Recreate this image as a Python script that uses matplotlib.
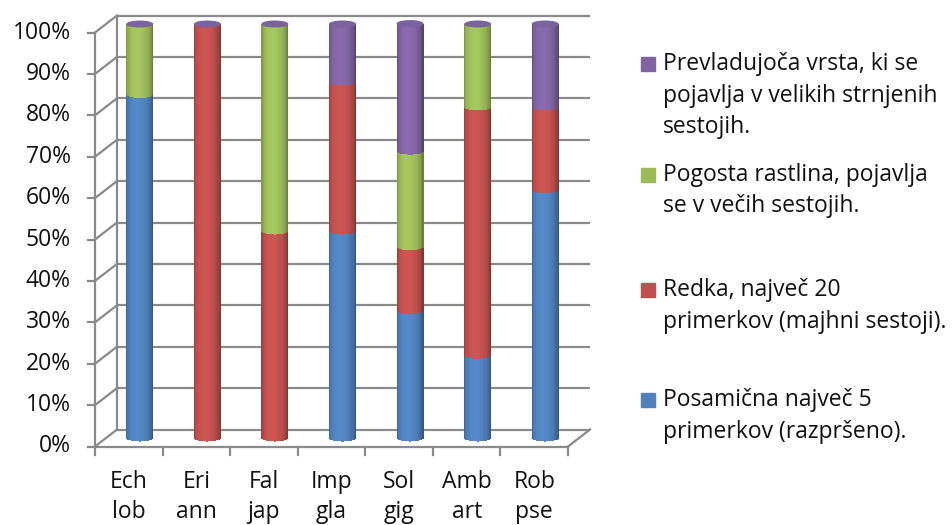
import matplotlib
matplotlib.use("Agg")
import matplotlib.pyplot as plt
import matplotlib.transforms as mtransforms
from matplotlib.patches import Ellipse, Rectangle
import numpy as np

plt.rcParams['font.family'] = ['Open Sans', 'DejaVu Sans']

# data (percent of each category)
categories = ["Ech\nlob", "Eri\nann", "Fal\njap", "Imp\ngla", "Sol\ngig", "Amb\nart", "Rob\npse"]
posamicna = [83, 0, 0, 50, 30.8, 20, 60]
redka = [0, 100, 50, 36, 15.4, 60, 20]
pogosta = [17, 0, 50, 0, 23.1, 20, 0]
prevladujoca = [0, 0, 0, 14, 30.8, 0, 20]
series = [posamicna, redka, pogosta, prevladujoca]
series_names = ["Posamična največ 5\nprimerkov (razpršeno).",
                "Redka, največ 20\nprimerkov (majhni sestoji).",
                "Pogosta rastlina, pojavlja\nse v večih sestojih.",
                "Prevladujoča vrsta, ki se\npojavlja v velikih strnjenih\nsestojih."]
colors = ["#4F81BD", "#C0504D", "#9BBB59", "#8064A2"]
yticks = np.arange(0, 101, 10)

W, H = 952, 525
fig = plt.figure(figsize=(W / 100, H / 100), dpi=100)
# axes = middle depth plane of the 3d box
ax = fig.add_axes([106 / W, (H - 438) / H, 473 / W, 414 / H])
ax.set_xlim(-0.5, 6.5)
ax.set_ylim(0, 100)
ax.axis('off')

front = ax.transData + mtransforms.ScaledTranslation(-0.11, -0.085, fig.dpi_scale_trans)
back = ax.transData + mtransforms.ScaledTranslation(0.11, 0.085, fig.dpi_scale_trans)
grid_c = "#8a8a8a"
lw = 1.6
txt_c = "#111111"
fs = 16.5

# back wall gridlines and left side wall
for v in yticks:
    ax.plot([-0.5, 6.5], [v, v], color=grid_c, lw=lw, transform=back, clip_on=False,
            solid_capstyle='butt')
    p0 = front.transform((-0.5, v))
    p1 = back.transform((-0.5, v))
    ax.plot([p0[0], p1[0]], [p0[1], p1[1]], color=grid_c, lw=lw, transform=None,
            clip_on=False)
ax.plot([-0.5, -0.5], [0, 100], color=grid_c, lw=lw, transform=back, clip_on=False)
# front axis
ax.plot([-0.5, -0.5], [0, 100], color=grid_c, lw=lw, transform=front, clip_on=False)
# floor
ax.plot([-0.5, 6.5], [0, 0], color=grid_c, lw=lw, transform=front, clip_on=False)
p0 = front.transform((6.5, 0))
p1 = back.transform((6.5, 0))
ax.plot([p0[0], p1[0]], [p0[1], p1[1]], color=grid_c, lw=lw, transform=None, clip_on=False)

# y ticks & labels
for v in yticks:
    x0, y0 = front.transform((-0.5, v))
    ax.plot([x0 - 7, x0], [y0, y0], color=grid_c, lw=lw, transform=None, clip_on=False)
    ax.text(x0 - 24, y0, f"{v}%", transform=None, ha='right', va='center', fontsize=fs,
            color=txt_c)
# x ticks & labels
for i in range(len(categories) + 1):
    x0, y0 = front.transform((i - 0.5, 0))
    ax.plot([x0, x0], [y0, y0 - 8], color=grid_c, lw=lw, transform=None, clip_on=False)
for i, c in enumerate(categories):
    x0, y0 = front.transform((i, 0))
    for k, line in enumerate(c.split("\n")):
        ax.text(x0, y0 - 35 - 31 * k, line, transform=None, ha='center', va='center',
                fontsize=fs, color=txt_c)

# cylinders
bw = 0.40
n = 24
edges = np.linspace(-bw / 2, bw / 2, n + 1)
mids = (edges[:-1] + edges[1:]) / 2
t = mids / (bw / 2)
shade = 0.64 + 0.42 * np.sqrt(1 - t ** 2) - 0.08 * t
x = np.arange(len(categories))
ell_h = 1.7


def shaded(c, k):
    rgb = np.array(matplotlib.colors.to_rgb(c))
    return np.clip(rgb * k, 0, 1)


bottom = np.zeros(len(categories))
for si, (s, c) in enumerate(zip(series, colors)):
    vals = np.array(s, dtype=float)
    for j in range(n):
        ax.bar(x + mids[j], vals, width=bw / n * 1.02, bottom=bottom, color=shaded(c, shade[j]),
               linewidth=0, zorder=3 + si * 0.1, clip_on=False)
    # rounded lower edge of each segment (front half of its bottom ellipse)
    for i in range(len(categories)):
        if vals[i] > 0:
            for j in range(n):
                half = np.sqrt(max(1 - t[j] ** 2, 0)) * ell_h / 2
                ax.bar(x[i] + mids[j], half, width=bw / n * 1.02, bottom=bottom[i] - half,
                       color=shaded(c, shade[j]), linewidth=0, zorder=3 + si * 0.1 + 0.05,
                       clip_on=False)
    bottom = bottom + vals

# top caps
for i in range(len(categories)):
    ax.add_patch(Ellipse((x[i], bottom[i]), bw, ell_h, color="#7d62a0", lw=0, zorder=5,
                         clip_on=False))

# legend
leg_y = [400, 290, 175, 64]
for name, c, yy in zip(series_names, colors, leg_y):
    fig.patches.append(Rectangle((641 / W, 1 - (yy + 7) / H), 14 / W, 14 / H, color=c,
                                 transform=fig.transFigure, figure=fig))
    for k, line in enumerate(name.split("\n")):
        fig.text(663 / W, 1 - (yy + 31.5 * k) / H, line, ha='left', va='center',
                 fontsize=fs, color=txt_c)

fig.savefig("out.png", dpi=100)
